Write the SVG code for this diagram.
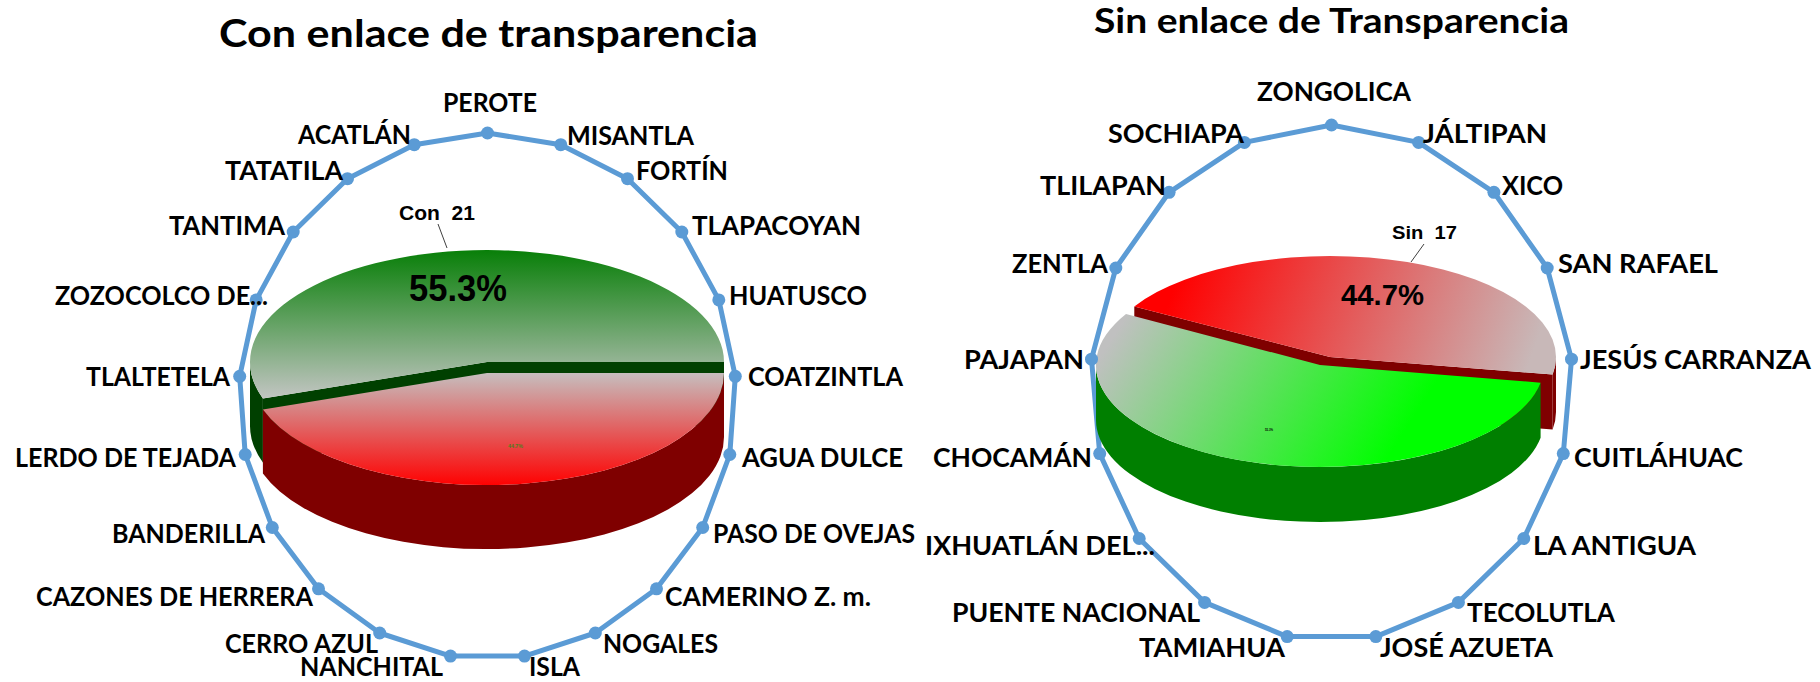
<svg xmlns="http://www.w3.org/2000/svg" width="1820" height="682" viewBox="0 0 1820 682">
<defs>
<style>
.ttl{font-family:Lato,"Liberation Sans",sans-serif;font-weight:bold;fill:#000}
.lb{font-family:Lato,"Liberation Sans",sans-serif;font-weight:bold;font-size:26px;fill:#000}
.dl{font-family:"Liberation Sans",Arial,sans-serif;font-weight:bold;fill:#000}
.radar{fill:none;stroke:#5B9BD5;stroke-width:5;stroke-linejoin:round}
.mk{fill:#5B9BD5}
.lead{stroke:#404040;stroke-width:1;fill:none}
.dgreen{fill:#004000}
.dred{fill:#7F0000}
.mgreen{fill:#007F00}
</style>
<linearGradient id="gLg" gradientUnits="userSpaceOnUse" x1="0" y1="250" x2="0" y2="400">
<stop offset="0" stop-color="#087F08"/><stop offset="1" stop-color="#C4C6C4"/>
</linearGradient>
<linearGradient id="gLr" gradientUnits="userSpaceOnUse" x1="0" y1="373" x2="0" y2="486">
<stop offset="0" stop-color="#C6BEBE"/><stop offset="1" stop-color="#FF0000"/>
</linearGradient>
<linearGradient id="gRr" gradientUnits="userSpaceOnUse" x1="1180" y1="270" x2="1520" y2="390">
<stop offset="0" stop-color="#FF0000"/><stop offset="1" stop-color="#C8B8B8"/>
</linearGradient>
<linearGradient id="gRg" gradientUnits="userSpaceOnUse" x1="1130" y1="310" x2="1380" y2="470">
<stop offset="0" stop-color="#C0C0C0"/><stop offset="1" stop-color="#00FF00"/>
</linearGradient>
</defs>
<rect width="1820" height="682" fill="#fff"/>

<!-- LEFT CHART -->
<g id="title-left"><text class="ttl" x="219" y="47" font-size="38" textLength="539" lengthAdjust="spacingAndGlyphs">Con enlace de transparencia</text></g>

<g id="pie-left">
<g id="slice-con">
<path class="dgreen" d="M262.9,398.5 L487,362 L724,362 L724,426 L487,426 L262.9,462.5 Z"/>
<path class="dgreen" d="M250,362 A237,112 0 0,0 262.9,398.5 L262.9,462.5 A237,112 0 0,1 250,426 Z"/>
<path fill="url(#gLg)" d="M487,362 L724,362 A237,112 0 1,0 262.9,398.5 Z"/>
</g>
<g id="slice-sin-left">
<path class="dred" d="M262.9,409.5 A237,112 0 0,0 724,373 L724,437 A237,112 0 0,1 262.9,473.5 Z"/>
<path fill="url(#gLr)" d="M487,373 L262.9,409.5 A237,112 0 0,0 724,373 Z"/>
<text class="dl" x="508" y="448" font-size="5" fill="#4F7F1F" style="fill:#4F7F1F" textLength="15" lengthAdjust="spacingAndGlyphs">44.7%</text>
</g>
<text class="dl" x="409" y="301" font-size="37" textLength="98" lengthAdjust="spacingAndGlyphs">55.3%</text>
<text class="dl" x="399" y="220" font-size="20" xml:space="preserve" textLength="76" lengthAdjust="spacingAndGlyphs">Con  21</text>
</g>

<g id="connectors">
<path class="lead" d="M438,224 L447,248"/>
<path class="lead" d="M1424,244 L1411,262"/>
<polygon class="radar" points="487.5,133 560.75,144.7 627.5,178.7 681.8,232 718.8,299.9 735.3,376.3 729.8,454.5 702.7,527.5 656.5,588.8 595.3,633 524.5,656.1 450.5,656.1 379.7,633 318.5,588.8 272.3,527.5 245.2,454.5 239.7,376.3 256.2,299.9 293.2,232 347.5,178.7 414.25,144.7"/>
<polygon class="radar" points="1331.5,125 1418.6,142.4 1493.9,192.3 1547.2,268 1571.5,359.2 1563.3,453.6 1523.8,538.5 1458.4,602.4 1375.8,636.6 1287.2,636.6 1204.6,602.4 1139.2,538.5 1099.7,453.6 1091.5,359.2 1115.8,268 1169.1,192.3 1244.4,142.4"/>
</g>

<g id="left-points">
<g id="n-perote"><circle class="mk" cx="487.5" cy="133" r="6.5"/><text class="lb" x="443" y="112" textLength="94" lengthAdjust="spacingAndGlyphs">PEROTE</text></g>
<g id="n-misantla"><circle class="mk" cx="560.75" cy="144.7" r="6.5"/><text class="lb" x="567" y="145" textLength="127" lengthAdjust="spacingAndGlyphs">MISANTLA</text></g>
<g id="n-fortin"><circle class="mk" cx="627.5" cy="178.7" r="6.5"/><text class="lb" x="636" y="180" textLength="92" lengthAdjust="spacingAndGlyphs">FORTÍN</text></g>
<g id="n-tlapacoyan"><circle class="mk" cx="681.8" cy="232" r="6.5"/><text class="lb" x="692" y="235" textLength="169" lengthAdjust="spacingAndGlyphs">TLAPACOYAN</text></g>
<g id="n-huatusco"><circle class="mk" cx="718.8" cy="299.9" r="6.5"/><text class="lb" x="729" y="305" textLength="138" lengthAdjust="spacingAndGlyphs">HUATUSCO</text></g>
<g id="n-coatzintla"><circle class="mk" cx="735.3" cy="376.3" r="6.5"/><text class="lb" x="748" y="386" textLength="155" lengthAdjust="spacingAndGlyphs">COATZINTLA</text></g>
<g id="n-aguadulce"><circle class="mk" cx="729.8" cy="454.5" r="6.5"/><text class="lb" x="742" y="467" textLength="161" lengthAdjust="spacingAndGlyphs">AGUA DULCE</text></g>
<g id="n-pasodeovejas"><circle class="mk" cx="702.7" cy="527.5" r="6.5"/><text class="lb" x="713" y="543" textLength="202" lengthAdjust="spacingAndGlyphs">PASO DE OVEJAS</text></g>
<g id="n-camerino"><circle class="mk" cx="656.5" cy="588.8" r="6.5"/><text class="lb" x="665" y="606" textLength="206" lengthAdjust="spacingAndGlyphs">CAMERINO Z. m.</text></g>
<g id="n-nogales"><circle class="mk" cx="595.3" cy="633" r="6.5"/><text class="lb" x="603" y="653" textLength="115" lengthAdjust="spacingAndGlyphs">NOGALES</text></g>
<g id="n-isla"><circle class="mk" cx="524.5" cy="656.1" r="6.5"/><text class="lb" x="529" y="676" textLength="51" lengthAdjust="spacingAndGlyphs">ISLA</text></g>
<g id="n-nanchital"><circle class="mk" cx="450.5" cy="656.1" r="6.5"/><text class="lb" x="300" y="676" textLength="143" lengthAdjust="spacingAndGlyphs">NANCHITAL</text></g>
<g id="n-cerroazul"><circle class="mk" cx="379.7" cy="633" r="6.5"/><text class="lb" x="225" y="653" textLength="153" lengthAdjust="spacingAndGlyphs">CERRO AZUL</text></g>
<g id="n-cazones"><circle class="mk" cx="318.5" cy="588.8" r="6.5"/><text class="lb" x="36" y="606" textLength="277" lengthAdjust="spacingAndGlyphs">CAZONES DE HERRERA</text></g>
<g id="n-banderilla"><circle class="mk" cx="272.3" cy="527.5" r="6.5"/><text class="lb" x="112" y="543" textLength="153" lengthAdjust="spacingAndGlyphs">BANDERILLA</text></g>
<g id="n-lerdo"><circle class="mk" cx="245.2" cy="454.5" r="6.5"/><text class="lb" x="15" y="467" textLength="221" lengthAdjust="spacingAndGlyphs">LERDO DE TEJADA</text></g>
<g id="n-tlaltetela"><circle class="mk" cx="239.7" cy="376.3" r="6.5"/><text class="lb" x="86" y="386" textLength="144" lengthAdjust="spacingAndGlyphs">TLALTETELA</text></g>
<g id="n-zozocolco"><circle class="mk" cx="256.2" cy="299.9" r="6.5"/><text class="lb" x="55" y="305" textLength="213" lengthAdjust="spacingAndGlyphs">ZOZOCOLCO DE...</text></g>
<g id="n-tantima"><circle class="mk" cx="293.2" cy="232" r="6.5"/><text class="lb" x="169" y="235" textLength="116" lengthAdjust="spacingAndGlyphs">TANTIMA</text></g>
<g id="n-tatatila"><circle class="mk" cx="347.5" cy="178.7" r="6.5"/><text class="lb" x="225" y="180" textLength="118" lengthAdjust="spacingAndGlyphs">TATATILA</text></g>
<g id="n-acatlan"><circle class="mk" cx="414.25" cy="144.7" r="6.5"/><text class="lb" x="298" y="144" textLength="113" lengthAdjust="spacingAndGlyphs">ACATLÁN</text></g>
</g>

<!-- RIGHT CHART -->
<g id="title-right"><text class="ttl" x="1094" y="33" font-size="35" textLength="475" lengthAdjust="spacingAndGlyphs">Sin enlace de Transparencia</text></g>

<g id="pie-right">
<g id="slice-sin">
<path class="dred" d="M1134.3,306.5 L1330,357 L1552.6,374.5 L1552.6,429.5 L1330,412 L1134.3,361.5 Z"/>
<path class="dred" d="M1556,357 A226,101 0 0,1 1552.6,374.5 L1552.6,429.5 A226,101 0 0,0 1556,412 Z"/>
<path fill="url(#gRr)" d="M1330,357 L1552.6,374.5 A226,101 0 0,0 1134.3,306.5 Z"/>
</g>
<g id="slice-con-right">
<path class="mgreen" d="M1096,365 A224,102 0 0,0 1540.6,382.7 L1540.6,437.7 A224,102 0 0,1 1096,420 Z"/>
<path fill="url(#gRg)" d="M1320,365 L1126,314 A224,102 0 1,0 1540.6,382.7 Z"/>
<text class="dl" x="1265" y="431" font-size="4" textLength="8" lengthAdjust="spacingAndGlyphs">55.3%</text>
</g>
<text class="dl" x="1341" y="305" font-size="30" textLength="83" lengthAdjust="spacingAndGlyphs">44.7%</text>
<text class="dl" x="1392" y="239" font-size="19" xml:space="preserve" textLength="65" lengthAdjust="spacingAndGlyphs">Sin  17</text>
</g>

<g id="right-points">
<g id="n-zongolica"><circle class="mk" cx="1331.5" cy="125" r="6.5"/><text class="lb" x="1257" y="101" textLength="154" lengthAdjust="spacingAndGlyphs">ZONGOLICA</text></g>
<g id="n-jaltipan"><circle class="mk" cx="1418.6" cy="142.4" r="6.5"/><text class="lb" x="1423" y="143" textLength="124" lengthAdjust="spacingAndGlyphs">JÁLTIPAN</text></g>
<g id="n-xico"><circle class="mk" cx="1493.9" cy="192.3" r="6.5"/><text class="lb" x="1502" y="195" textLength="61" lengthAdjust="spacingAndGlyphs">XICO</text></g>
<g id="n-sanrafael"><circle class="mk" cx="1547.2" cy="268" r="6.5"/><text class="lb" x="1558" y="273" textLength="160" lengthAdjust="spacingAndGlyphs">SAN RAFAEL</text></g>
<g id="n-jesuscarranza"><circle class="mk" cx="1571.5" cy="359.2" r="6.5"/><text class="lb" x="1580" y="369" textLength="231" lengthAdjust="spacingAndGlyphs">JESÚS CARRANZA</text></g>
<g id="n-cuitlahuac"><circle class="mk" cx="1563.3" cy="453.6" r="6.5"/><text class="lb" x="1574" y="467" textLength="169" lengthAdjust="spacingAndGlyphs">CUITLÁHUAC</text></g>
<g id="n-laantigua"><circle class="mk" cx="1523.8" cy="538.5" r="6.5"/><text class="lb" x="1533" y="555" textLength="163" lengthAdjust="spacingAndGlyphs">LA ANTIGUA</text></g>
<g id="n-tecolutla"><circle class="mk" cx="1458.4" cy="602.4" r="6.5"/><text class="lb" x="1467" y="622" textLength="148" lengthAdjust="spacingAndGlyphs">TECOLUTLA</text></g>
<g id="n-joseazueta"><circle class="mk" cx="1375.8" cy="636.6" r="6.5"/><text class="lb" x="1380" y="657" textLength="173" lengthAdjust="spacingAndGlyphs">JOSÉ AZUETA</text></g>
<g id="n-tamiahua"><circle class="mk" cx="1287.2" cy="636.6" r="6.5"/><text class="lb" x="1139" y="657" textLength="146" lengthAdjust="spacingAndGlyphs">TAMIAHUA</text></g>
<g id="n-puentenacional"><circle class="mk" cx="1204.6" cy="602.4" r="6.5"/><text class="lb" x="952" y="622" textLength="248" lengthAdjust="spacingAndGlyphs">PUENTE NACIONAL</text></g>
<g id="n-ixhuatlan"><circle class="mk" cx="1139.2" cy="538.5" r="6.5"/><text class="lb" x="925" y="555" textLength="230" lengthAdjust="spacingAndGlyphs">IXHUATLÁN DEL...</text></g>
<g id="n-chocaman"><circle class="mk" cx="1099.7" cy="453.6" r="6.5"/><text class="lb" x="933" y="467" textLength="159" lengthAdjust="spacingAndGlyphs">CHOCAMÁN</text></g>
<g id="n-pajapan"><circle class="mk" cx="1091.5" cy="359.2" r="6.5"/><text class="lb" x="964" y="369" textLength="120" lengthAdjust="spacingAndGlyphs">PAJAPAN</text></g>
<g id="n-zentla"><circle class="mk" cx="1115.8" cy="268" r="6.5"/><text class="lb" x="1012" y="273" textLength="96" lengthAdjust="spacingAndGlyphs">ZENTLA</text></g>
<g id="n-tlilapan"><circle class="mk" cx="1169.1" cy="192.3" r="6.5"/><text class="lb" x="1040" y="195" textLength="126" lengthAdjust="spacingAndGlyphs">TLILAPAN</text></g>
<g id="n-sochiapa"><circle class="mk" cx="1244.4" cy="142.4" r="6.5"/><text class="lb" x="1108" y="143" textLength="136" lengthAdjust="spacingAndGlyphs">SOCHIAPA</text></g>
</g>
</svg>
